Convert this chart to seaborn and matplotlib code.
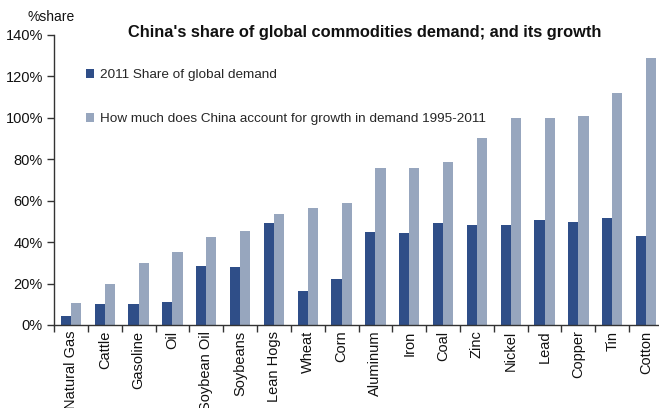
import numpy as np
import pandas as pd
import matplotlib
matplotlib.use("Agg")
import matplotlib.pyplot as plt
import seaborn as sns

commodities = ["Natural Gas", "Cattle", "Gasoline", "Oil", "Soybean Oil", "Soybeans",
               "Lean Hogs", "Wheat", "Corn", "Aluminum", "Iron", "Coal", "Zinc",
               "Nickel", "Lead", "Copper", "Tin", "Cotton"]
share_2011 = [4.4, 10.2, 10.2, 11.1, 28.6, 28.1, 49.4, 16.5, 22.3, 45.1, 44.6,
              49.4, 48.4, 48.4, 50.8, 49.8, 51.8, 43.1]
growth_share = [10.7, 19.9, 30.0, 35.4, 42.6, 45.5, 53.8, 56.7, 59.1, 76.0, 76.0,
                78.9, 90.1, 99.8, 99.8, 100.7, 111.9, 128.8]
series_names = ["2011 Share of global demand",
                "How much does China account for growth in demand 1995-2011"]
y_ticks = [0, 20, 40, 60, 80, 100, 120, 140]

df = pd.DataFrame({
    "commodity": commodities * 2,
    "value": share_2011 + growth_share,
    "series": [series_names[0]] * len(commodities) + [series_names[1]] * len(commodities),
})

sns.set_theme(style="white")
plt.rcParams["font.family"] = ["Liberation Sans", "DejaVu Sans"]

W, H = 659, 408
fig = plt.figure(figsize=(W / 100, H / 100), dpi=100)
ax = fig.add_axes([54 / W, 83 / H, 609 / W, 290 / H])

palette = {series_names[0]: "#2F4E88", series_names[1]: "#97A6BE"}
sns.barplot(data=df, x="commodity", y="value", hue="series", order=commodities,
            hue_order=series_names, palette=palette, width=0.6, saturation=1,
            ax=ax, errorbar=None, linewidth=0)

ax.set_xlim(-0.5, len(commodities) - 0.5)
ax.set_ylim(0, 140)
ax.set_yticks(y_ticks)
ax.set_yticklabels([f"{t}%" for t in y_ticks], fontsize=10.5, color="#111111")
ax.set_xticks(range(len(commodities)))
ax.set_xticklabels(commodities, rotation=90, fontsize=10.5, color="#111111")
ax.set_xticks(np.arange(-0.5, len(commodities), 1.0), minor=True)
ax.tick_params(axis="x", which="major", length=0, pad=4)
ax.tick_params(axis="x", which="minor", length=5, width=1, color="#333333", direction="out", bottom=True)
ax.tick_params(axis="y", length=5, width=1, color="#333333", direction="out", left=True, pad=3)
ax.set_xlabel("")
ax.set_ylabel("")

for side in ["top", "right"]:
    ax.spines[side].set_visible(False)
for side in ["left", "bottom"]:
    ax.spines[side].set_color("#333333")
    ax.spines[side].set_linewidth(1)

handles, labels = ax.get_legend_handles_labels()
ax.legend(handles, labels, loc="upper left", bbox_to_anchor=(86 / W, 1 - 69 / H),
          bbox_transform=fig.transFigure, frameon=False, fontsize=9.7,
          handlelength=0.6, handleheight=0.6, handletextpad=0.45,
          labelspacing=2.4, borderpad=0, borderaxespad=0)

fig.text(365 / W, 1 - 32 / H, "China's share of global commodities demand; and its growth",
         ha="center", va="center", fontsize=11.8, fontweight="bold", color="#111111")
fig.text(51 / W, 1 - 17 / H, "%share", ha="center", va="center", fontsize=10, color="#111111")

fig.savefig("out.png", dpi=100)
